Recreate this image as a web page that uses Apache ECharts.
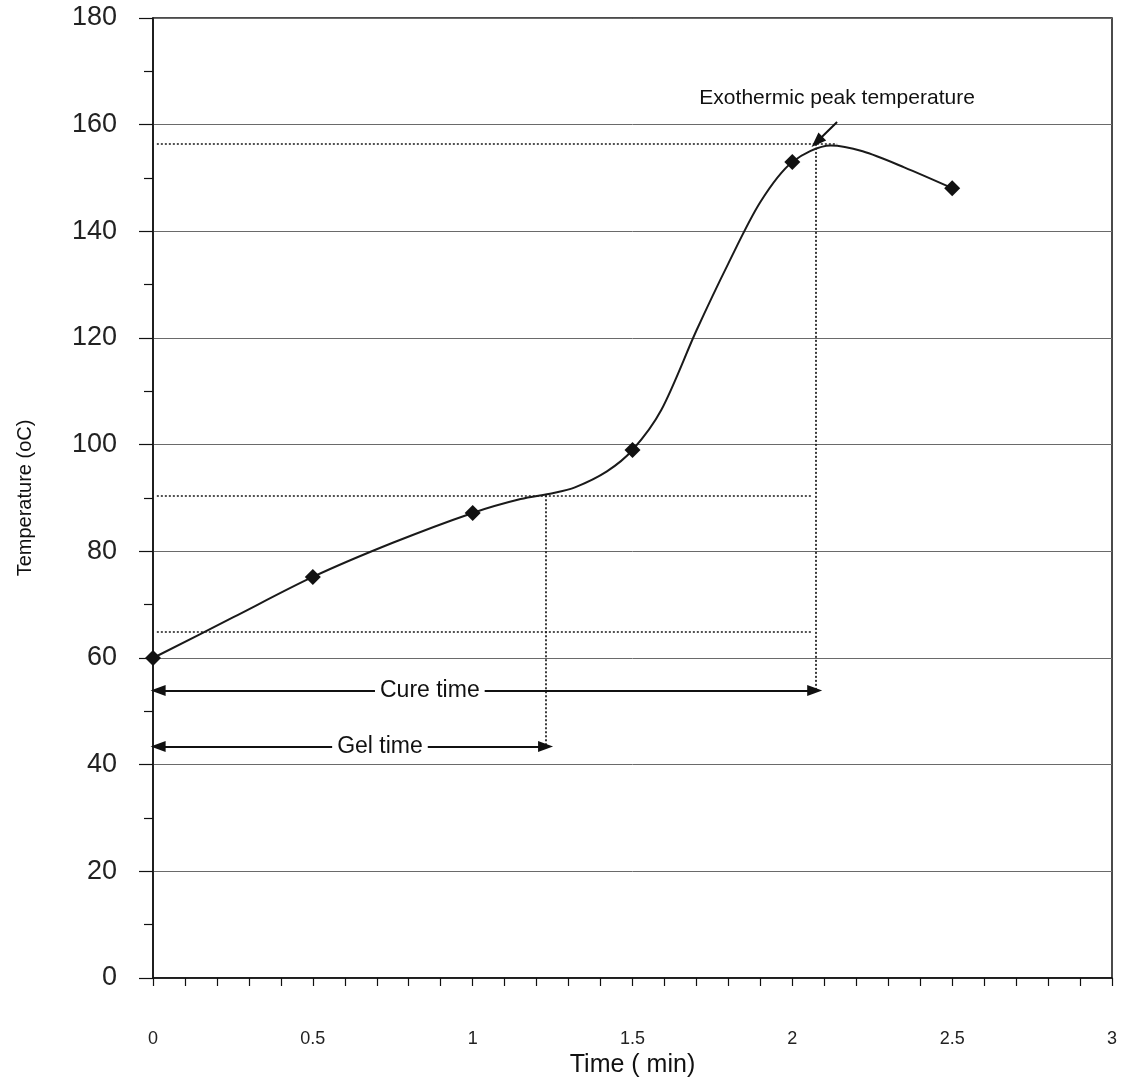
<!DOCTYPE html>
<html>
<head>
<meta charset="utf-8">
<script src="https://cdn.jsdelivr.net/npm/echarts@6/dist/echarts.min.js"></script>
<style>html,body{margin:0;padding:0;background:#fff}#c{width:1129px;height:1088px}</style>
</head>
<body>
<div id="c"></div>
<script>
// Smoothed curve
const curveTime = [0, 0.25, 0.5, 0.75, 1.0, 1.15, 1.25, 1.32, 1.42, 1.5, 1.59, 1.7, 1.8, 1.9, 2.0, 2.12, 2.22, 2.35, 2.5];
const curveTemp = [60, 67.6, 75.2, 81.6, 87.2, 89.8, 90.9, 92, 95, 99, 106.5, 121.4, 134, 145.5, 153, 156.1, 155, 152, 148.1];
// Measured points (diamond markers)
const markerTime = [0, 0.5, 1, 1.5, 2, 2.5];
const markerTemp = [60, 75.2, 87.2, 99, 153, 148.1];
// Annotation values
const gelT = 1.228, cureT = 2.074;
const peakTemp = 156.4, gelTemp = 90.5, initTemp = 64.9;
const cureArrowTemp = 53.9, gelArrowTemp = 43.4;
const lineStart = 0.012;
const labels = [
  [0.866, 53.9, 'Cure time'],
  [0.71, 43.4, 'Gel time'],
  [2.14, 165, 'Exothermic peak temperature']
];
const xTicks = [0, 0.5, 1, 1.5, 2, 2.5, 3];
const yTicks = [0, 20, 40, 60, 80, 100, 120, 140, 160, 180];

const font = 'Liberation Sans, Arial, sans-serif';
const chart = echarts.init(document.getElementById('c'));
const dotted = {type: [2, 2], color: '#1a1a1a', width: 1.7};
const arrowStyle = {type: 'solid', color: '#111', width: 2};
function seg(a, b, style, sym) {
  return [{coord: a, lineStyle: style, symbol: sym[0]}, {coord: b, lineStyle: style, symbol: sym[1]}];
}
chart.setOption({
  animation: false,
  grid: {left: 153, right: 17, top: 18, bottom: 110, show: true, borderColor: '#111', borderWidth: 1.5, backgroundColor: 'transparent'},
  xAxis: {
    type: 'value', min: xTicks[0], max: xTicks[xTicks.length - 1], interval: 0.5,
    name: 'Time ( min)', nameLocation: 'middle', nameGap: 74,
    nameTextStyle: {fontFamily: font, fontSize: 25, color: '#111'},
    axisLine: {show: true, onZero: false, lineStyle: {color: '#111', width: 1.5}},
    axisTick: {show: true, length: 8, lineStyle: {color: '#111', width: 1.2}},
    minorTick: {show: true, splitNumber: 5, length: 8, lineStyle: {color: '#111', width: 1.2}},
    axisLabel: {margin: 52, fontFamily: font, fontSize: 18, color: '#222', formatter: v => String(v)},
    splitLine: {show: false}
  },
  yAxis: {
    type: 'value', min: yTicks[0], max: yTicks[yTicks.length - 1], interval: 20,
    name: 'Temperature (oC)', nameLocation: 'middle', nameGap: 118,
    nameTextStyle: {fontFamily: font, fontSize: 20, color: '#111'},
    axisLine: {show: true, lineStyle: {color: '#111', width: 1.5}},
    axisTick: {show: true, length: 14, lineStyle: {color: '#111', width: 1.2}},
    minorTick: {show: true, splitNumber: 2, length: 9, lineStyle: {color: '#111', width: 1.2}},
    axisLabel: {margin: 36, fontFamily: font, fontSize: 27, color: '#222'},
    splitLine: {show: true, lineStyle: {color: '#6a6a6a', width: 1}}
  },
  series: [
    {
      type: 'line', smooth: 0.3, symbol: 'none',
      data: curveTime.map((t, i) => [t, curveTemp[i]]),
      lineStyle: {color: '#1a1a1a', width: 2},
      z: 3,
      markLine: {
        silent: true, animation: false, symbolSize: [11, 15],
        label: {show: false},
        data: [
          seg([lineStart, peakTemp], [2.14, peakTemp], dotted, ['none', 'none']),
          seg([lineStart, gelTemp], [cureT - 0.01, gelTemp], dotted, ['none', 'none']),
          seg([lineStart, initTemp], [cureT - 0.01, initTemp], dotted, ['none', 'none']),
          seg([gelT, gelTemp], [gelT, gelArrowTemp], dotted, ['none', 'none']),
          seg([cureT, peakTemp], [cureT, cureArrowTemp], dotted, ['none', 'none']),
          seg([0.016, cureArrowTemp], [cureT - 0.004, cureArrowTemp], arrowStyle, ['triangle', 'triangle']),
          seg([0.016, gelArrowTemp], [gelT, gelArrowTemp], arrowStyle, ['triangle', 'triangle']),
          seg([2.14, 160.5], [2.077, 156.8], arrowStyle, ['none', 'triangle'])
        ]
      }
    },
    {
      type: 'scatter', symbol: 'diamond', symbolSize: 16,
      data: markerTime.map((t, i) => [t, markerTemp[i]]),
      itemStyle: {color: '#111', opacity: 1}, z: 4
    },
    {
      type: 'scatter', symbol: 'circle', symbolSize: 0, silent: true, z: 6,
      itemStyle: {opacity: 1},
      data: labels.map((l, i) => i === 2
        ? {value: l, label: {fontSize: 21, backgroundColor: 'transparent'}}
        : {value: l}),
      label: {
        show: true, position: 'inside', formatter: p => p.value[2],
        fontFamily: font, fontSize: 23, color: '#111', opacity: 1,
        backgroundColor: '#fff', padding: [2, 5]
      },
      labelLayout: {hideOverlap: false}
    }
  ]
});
</script>
</body>
</html>
